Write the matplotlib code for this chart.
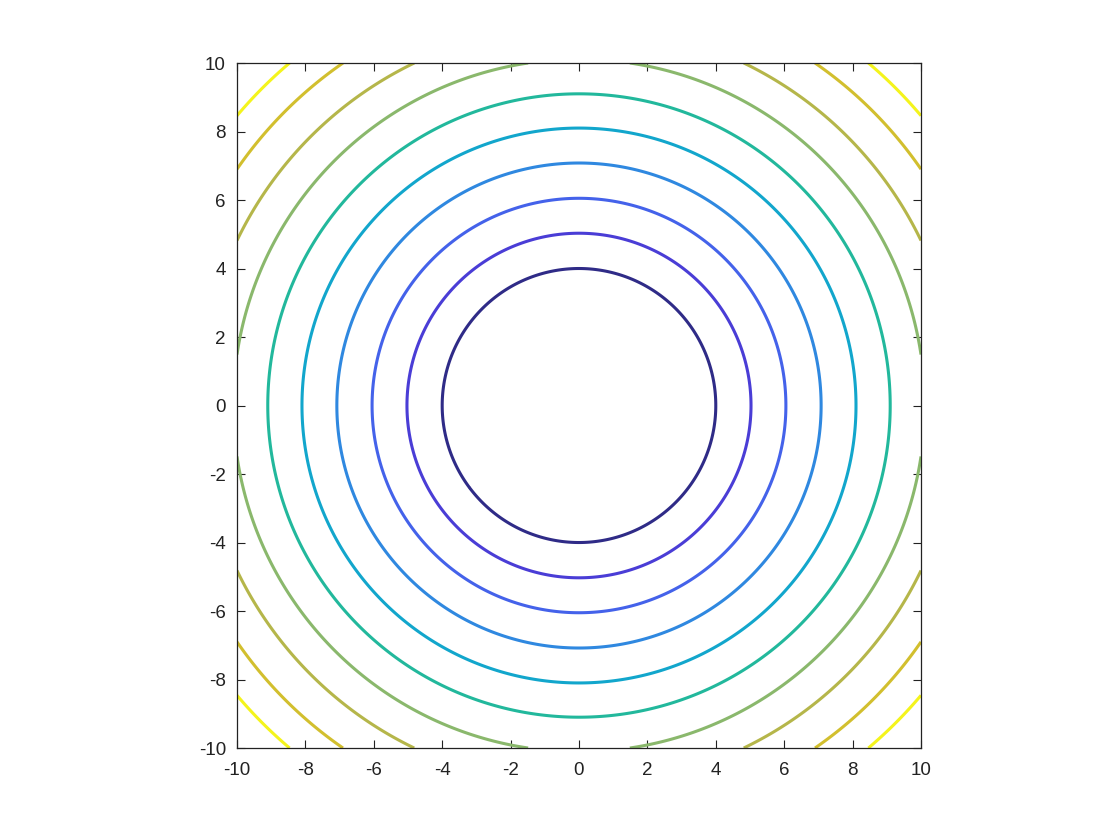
import numpy as np
import matplotlib
matplotlib.use("Agg")
import matplotlib.pyplot as plt

# contour levels (radius of each ring)
levels = [4.0, 5.03, 6.05, 7.08, 8.1, 9.1, 10.11, 11.1, 12.15, 13.1]
ringColors = ["#2f2b87", "#4a3dd6", "#4462ea", "#2f88e0", "#12a6cc",
              "#22b89c", "#8ab86c", "#b5b64a", "#d2bf2e", "#f4f41c"]
ticks = [-10, -8, -6, -4, -2, 0, 2, 4, 6, 8, 10]

plt.rcParams['font.family'] = ['Liberation Sans', 'DejaVu Sans']

xs = np.linspace(-10, 10, 801)
X, Y = np.meshgrid(xs, xs)
Z = np.sqrt(X ** 2 + Y ** 2)

fig = plt.figure(figsize=(11.2, 8.4), dpi=100)
ax = fig.add_axes([0.2116, 0.1095, 0.6107, 0.8155])
ax.contour(X, Y, Z, levels=levels, colors=ringColors, linewidths=2.2)
ax.set_xlim(-10, 10)
ax.set_ylim(-10, 10)
ax.set_xticks(ticks)
ax.set_yticks(ticks)
ax.set_xticklabels([str(t) for t in ticks])
ax.set_yticklabels([str(t) for t in ticks])
ax.tick_params(direction='in', length=6, width=0.8, top=True, right=True,
               labelsize=13.5, colors='#222222', pad=8)
ax.tick_params(axis='x', pad=10)
for sp in ax.spines.values():
    sp.set_linewidth(0.9)
    sp.set_color('#222222')
fig.savefig("out.png", dpi=100)
